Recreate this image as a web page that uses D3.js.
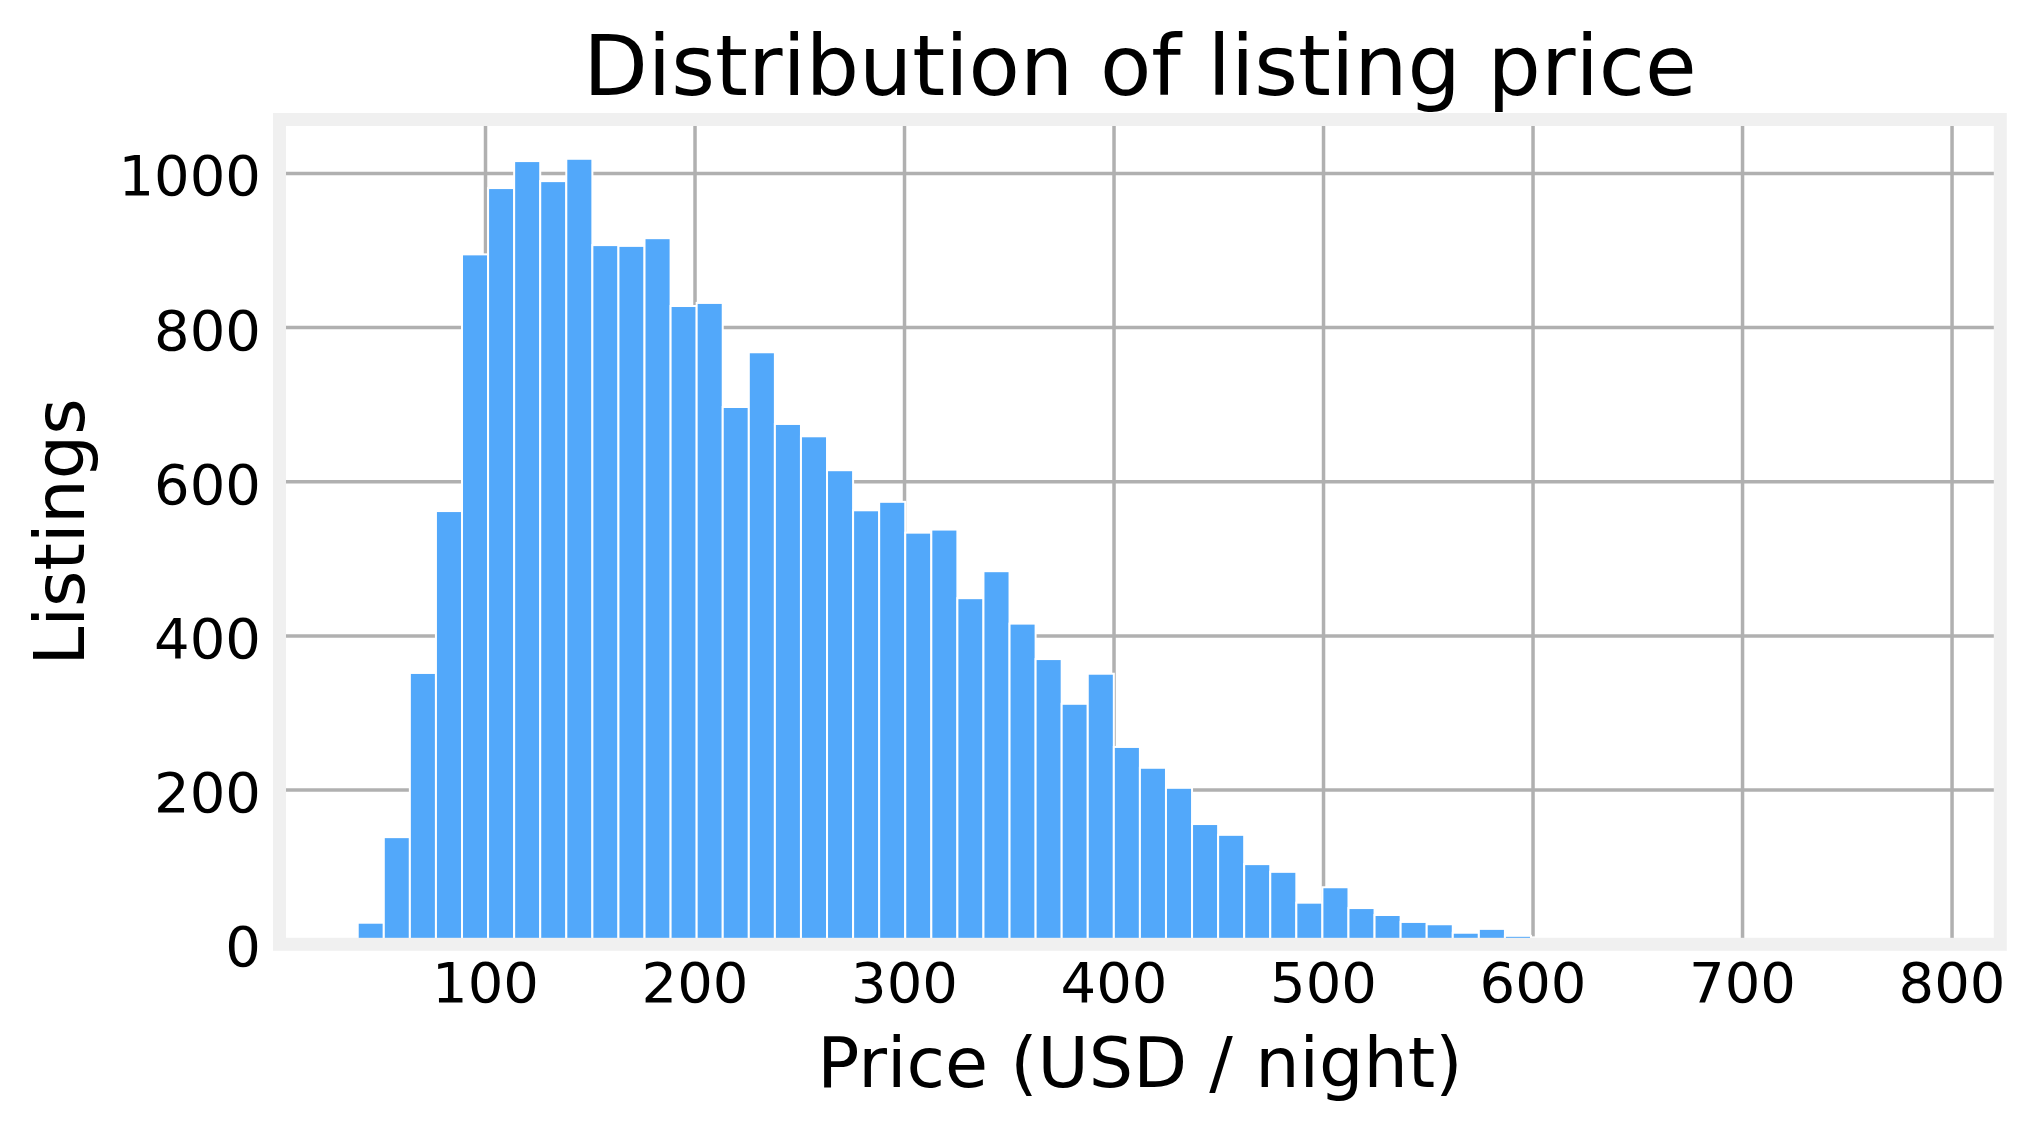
<!DOCTYPE html>
<html lang="en">

<!-- Page setup -->
<head>
<meta charset="utf-8" />
<title>Distribution of listing price</title>
<style>
body { margin:0; background:#ffffff; }
svg { display:block; font-family:"DejaVu Sans", sans-serif; }
</style>
</head>

<body>
<div id="chart"></div>

<script src="https://cdn.jsdelivr.net/npm/d3@7"></script>
<script type="text/javascript">
// listings per price bin (60 equal bins)
var counts = [28, 139, 352, 562, 895, 981, 1016, 990, 1019, 907,
              906, 916, 828, 832, 697, 768, 675, 659, 615, 563,
              574, 534, 538, 449, 484, 416, 370, 312, 351, 256,
              229, 203, 156, 142, 104, 94, 54, 74, 47, 38,
              29, 26, 15, 20, 11, 9, 6, 5, 4, 3,
              2, 2, 1, 1, 1, 0, 1, 0, 0, 1];
var binStart = 39;
var binEnd = 785.7;
var xTicks = [100, 200, 300, 400, 500, 600, 700, 800];
var yTicks = [0, 200, 400, 600, 800, 1000];
var titleText = "Distribution of listing price";
var xLabel = "Price (USD / night)";
var yLabel = "Listings";

var W = 2037, H = 1134;
// plot box (note: "top" is reserved on window, so use box*)
var boxL = 279.5, boxR = 2000.3, boxT = 119.5, boxB = 944.3;

var binWidth = (binEnd - binStart) / counts.length;
var bins = counts.map(function (c, i) {
  return {x0: binStart + i * binWidth, x1: binStart + (i + 1) * binWidth, n: c};
});

// matplotlib style 5% margins on x, sticky zero on y
var pad = 0.05 * (binEnd - binStart);
var x = d3.scaleLinear().domain([binStart - pad, binEnd + pad]).range([boxL, boxR]);
var y = d3.scaleLinear().domain([0, d3.max(counts) * 1.05]).range([boxB, boxT]);

var svg = d3.select("#chart").append("svg")
    .attr("width", W)
    .attr("height", H);

// grid
var grid = svg.append("g");
grid.selectAll("line.gx").data(xTicks).enter().append("line")
   .attr("x1", function (d) { return x(d); })
   .attr("x2", function (d) { return x(d); })
   .attr("y1", boxT)
   .attr("y2", boxB)
   .attr("stroke", "#b0b0b0")
   .attr("stroke-width", 3.5);
grid.selectAll("line.gy").data(yTicks).enter().append("line")
   .attr("x1", boxL)
   .attr("x2", boxR)
   .attr("y1", function (d) { return y(d); })
   .attr("y2", function (d) { return y(d); })
   .attr("stroke", "#b0b0b0")
   .attr("stroke-width", 3.5);

// bars
svg.append("g").selectAll("rect").data(bins).enter().append("rect")
   .attr("x", function (d) { return x(d.x0); })
   .attr("y", function (d) { return y(d.n); })
   .attr("width", function (d) { return x(d.x1) - x(d.x0); })
   .attr("height", function (d) { return y(0) - y(d.n); })
   .attr("fill", "#52a8fa")
   .attr("stroke", "#ffffff")
   .attr("stroke-width", 2);

// thick light frame on top of the bars
svg.append("rect")
   .attr("x", boxL)
   .attr("y", boxT)
   .attr("width", boxR - boxL)
   .attr("height", boxB - boxT)
   .attr("fill", "none")
   .attr("stroke", "#f0f0f0")
   .attr("stroke-width", 13);

// tick labels
svg.append("g").selectAll("text").data(xTicks).enter().append("text")
   .attr("x", function (d) { return x(d); })
   .attr("y", 1002)
   .attr("font-size", 56)
   .attr("text-anchor", "middle")
   .attr("fill", "#000000")
   .text(function (d) { return d; });
svg.append("g").selectAll("text").data(yTicks).enter().append("text")
   .attr("x", 261)
   .attr("y", function (d) { return y(d) + 22; })
   .attr("font-size", 56)
   .attr("text-anchor", "end")
   .attr("fill", "#000000")
   .text(function (d) { return d; });

// title and axis labels
var cx = (boxL + boxR) / 2, cy = (boxT + boxB) / 2;
svg.append("text")
   .attr("x", cx)
   .attr("y", 95)
   .attr("font-size", 84)
   .attr("text-anchor", "middle")
   .attr("fill", "#000000")
   .text(titleText);
svg.append("text")
   .attr("x", cx)
   .attr("y", 1087)
   .attr("font-size", 70)
   .attr("text-anchor", "middle")
   .attr("fill", "#000000")
   .text(xLabel);
svg.append("text")
   .attr("transform", "translate(84," + cy + ") rotate(-90)")
   .attr("font-size", 70)
   .attr("text-anchor", "middle")
   .attr("fill", "#000000")
   .text(yLabel);
</script>

</body>

</html>
